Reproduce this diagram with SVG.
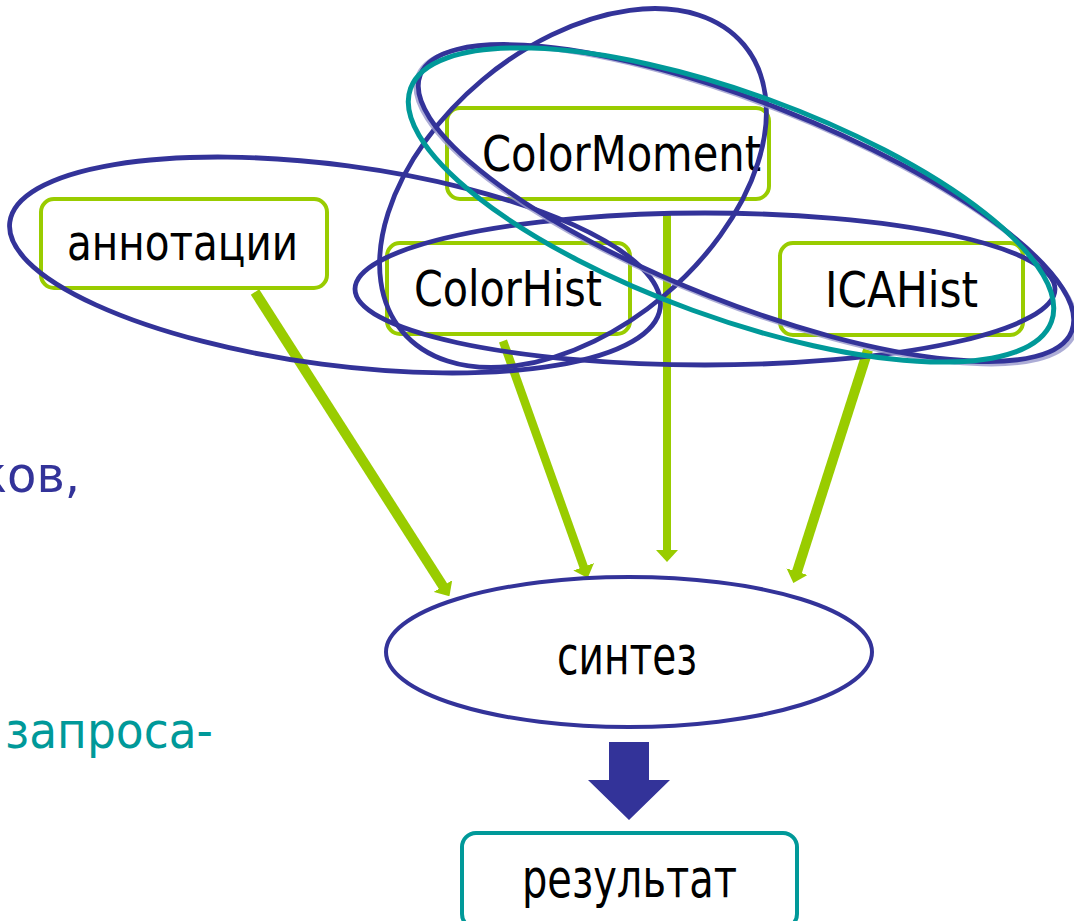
<svg xmlns="http://www.w3.org/2000/svg" width="1074" height="921" viewBox="0 0 1074 921">
<style>
.box{fill:#ffffff;stroke:#99cc00;stroke-width:4}
.res{fill:#ffffff;stroke:#009999;stroke-width:4}
.lbl{font-family:"DejaVu Sans","Liberation Sans",sans-serif;font-size:50px;fill:#000000;text-anchor:middle}
.frag{font-family:"DejaVu Sans","Liberation Sans",sans-serif;font-size:50px}
.link{stroke:#99cc00;fill:none;marker-end:url(#ah)}
.grp{fill:none;stroke:#333399;stroke-width:4.8}
</style>
<defs>
<marker id="ah" markerUnits="userSpaceOnUse" viewBox="0 0 12 22" markerWidth="12" markerHeight="22" refX="1" refY="11" orient="auto">
<path d="M0,0 L12,11 L0,22 Z" fill="#99cc00"/>
</marker>
</defs>
<rect width="1074" height="921" fill="#ffffff"/>

<g id="fragments">
<text class="frag" x="-22" y="492" textLength="102" lengthAdjust="spacingAndGlyphs" fill="#333399">ков,</text>
<text class="frag" x="5" y="748" textLength="208" lengthAdjust="spacingAndGlyphs" fill="#009999">запроса-</text>
</g>

<g id="node-annotations">
<rect class="box" x="41" y="199" width="286" height="89" rx="13"/>
<text class="lbl" x="182.5" y="260" textLength="231" lengthAdjust="spacingAndGlyphs">аннотации</text>
</g>
<g id="node-colormoment">
<rect class="box" x="447" y="108" width="322" height="91" rx="13"/>
<text class="lbl" x="621.5" y="171" textLength="279" lengthAdjust="spacingAndGlyphs">ColorMoment</text>
</g>
<g id="node-colorhist">
<rect class="box" x="387" y="243" width="243" height="91" rx="13"/>
<text class="lbl" x="508" y="306" textLength="188" lengthAdjust="spacingAndGlyphs">ColorHist</text>
</g>
<g id="node-icahist">
<rect class="box" x="780" y="243" width="243" height="92" rx="13"/>
<text class="lbl" x="901.5" y="307" textLength="153" lengthAdjust="spacingAndGlyphs">ICAHist</text>
</g>

<g id="connectors">
<line class="link" x1="255" y1="292" x2="443.5" y2="586.9" stroke-width="10"/>
<line class="link" x1="503" y1="341" x2="584" y2="567.7" stroke-width="8.5"/>
<line class="link" x1="667" y1="215" x2="667" y2="551" stroke-width="8"/>
<line class="link" x1="868" y1="350" x2="796.7" y2="572.6" stroke-width="10"/>
<polygon points="609,742 649,742 649,780 670,780 629,820 588,780 609,780" fill="#333399"/>
</g>

<g id="node-synthesis">
<ellipse cx="629" cy="652" rx="243" ry="75" fill="#ffffff" stroke="#333399" stroke-width="4"/>
<text class="lbl" x="627" y="674" textLength="140" lengthAdjust="spacingAndGlyphs" style="font-size:54px">синтез</text>
</g>
<g id="node-result">
<rect class="res" x="462" y="833" width="335" height="95" rx="14"/>
<text class="lbl" x="629.5" y="897" textLength="215" lengthAdjust="spacingAndGlyphs" style="font-size:53px">результат</text>
</g>

<g id="groupings">
<ellipse class="grp" cx="335" cy="265" rx="328" ry="100" transform="rotate(7.5 335 265)"/>
<ellipse class="grp" cx="705" cy="289" rx="350" ry="76"/>
<ellipse class="grp" cx="573" cy="188" rx="223" ry="141" transform="rotate(-40 573 188)"/>
<ellipse cx="746" cy="205" rx="353" ry="100" transform="rotate(21.5 746 205)" fill="none" stroke="#9999cc" stroke-width="4" opacity="0.8"/>
<ellipse class="grp" cx="746" cy="203" rx="350" ry="100" transform="rotate(21.5 746 203)"/>
<ellipse cx="731" cy="205" rx="341" ry="112" transform="rotate(20 731 205)" fill="none" stroke="#009999" stroke-width="5"/>
</g>
</svg>
